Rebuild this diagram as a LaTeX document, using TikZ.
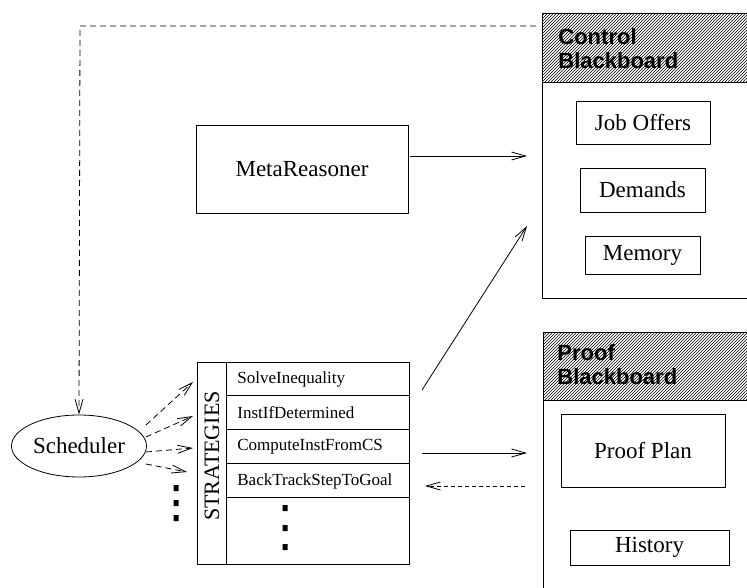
\documentclass[tikz,border=0pt]{standalone}
\usepackage{fontspec}
\setmainfont{Liberation Serif}
\newfontfamily\headfont{Liberation Sans}
\usetikzlibrary{arrows.meta,patterns,shapes.geometric}
\tikzset{
	box/.style={draw,inner sep=0pt},
	boardhead/.style={anchor=north west,align=left,inner sep=0pt,font=\headfont\bfseries\fontsize{22}{24}\selectfont},
	strat/.style={anchor=west,inner sep=0pt,font=\fontsize{17}{20}\selectfont},
	dashlong/.style={dash pattern=on 6pt off 4pt},
	dashshort/.style={dash pattern=on 4pt off 3pt}
}
\begin{document}
\begin{tikzpicture}[x=1pt,y=-1pt,>={Straight Barb[length=14pt,width=8pt]},line join=round,line width=.8pt,font=\fontsize{23}{27}\selectfont]
			\clip (0,0) rectangle (747,588);
			\path
			(542,13) coordinate (C1)
			(760,82) coordinate (C2)
			(760,298) coordinate (C3)
			(543,332) coordinate (P1)
			(760,400) coordinate (P2)
			(760,600) coordinate (P3)
			(536,26) coordinate (CB)
			(80,26) coordinate (CK)
			(527,156) coordinate (MI)
			(422,390) coordinate (SU)
			(527,226) coordinate (CI)
			(422,453) coordinate (SO)
			(527,453) coordinate (PI)
			(525,486) coordinate (PO)
			(425,486) coordinate (SI)
			(193,382) coordinate (E1)
			(193,416) coordinate (E2)
			(193,448) coordinate (E3)
			(187,472) coordinate (E4)
			;
			\fill[pattern=north east lines]
			(C1) rectangle (C2)
			(P1) rectangle (P2)
			;
			\draw
			(C1) rectangle (C3)
			(C1|-C2)--(C2)
			(P1) rectangle (P3)
			(P1|-P2)--(P2)
			;
			\node[boardhead] (ctrlhead) at (558,28) {Control\\Blackboard};
			\node[boardhead] (proofhead) at (557,344) {Proof\\Blackboard};
			\node[box,minimum width=212,minimum height=88] (meta) at (302,169) {MetaReasoner};
			\node[box,minimum width=134,minimum height=43] (jobs) at (643,122.5) {Job Offers};
			\node[box,minimum width=125,minimum height=44] (demands) at (642.5,190) {Demands};
			\node[box,minimum width=115,minimum height=38] (memory) at (642.5,255) {Memory};
			\node[box,minimum width=164,minimum height=73] (plan) at (643,450.5) {Proof Plan};
			\node[box,minimum width=159,minimum height=35] (history) at (649.5,547.5) {History};
			\node[draw,ellipse,inner sep=0pt,minimum width=135,minimum height=62] (sched) at (79,446) {Scheduler};
			% strategies table
			\draw
			(197,362) rectangle (409,564)
			(226,362)--(226,564)
			(226,395)--(409,395)
			(226,429)--(409,429)
			(226,463)--(409,463)
			(226,497)--(409,497)
			;
			\node[rotate=90,inner sep=0pt,font=\fontsize{22}{24}\selectfont] (strategies) at (212,456) {STRATEGIES};
			\node[strat] (solve) at (237,379) {SolveInequality};
			\node[strat] (instif) at (237,413) {InstIfDetermined};
			\node[strat] (compute) at (237,447) {ComputeInstFromCS};
			\node[strat] (back) at (237,481) {BackTrackStepToGoal};
			\fill
			(173.5,485) rectangle ++(5,6)
			(173.5,500) rectangle ++(5,6)
			(173.5,515) rectangle ++(5,6)
			(282.5,505) rectangle ++(5,6)
			(282.5,525) rectangle ++(5,6)
			(282.5,544) rectangle ++(5,6)
			;
			% connectors
			\draw[->,dashlong] (CB)--(CK)--(sched.north);
			\draw[->,dashlong] ([shift={(-1,-21)}]sched.east)--(E1);
			\draw[->,dashlong] ([shift={(-1,-9)}]sched.east)--(E2);
			\draw[->,dashlong] ([shift={(-1,6)}]sched.east)--(E3);
			\draw[->,dashlong] ([shift={(-1,18)}]sched.east)--(E4);
			\draw[->] ([shift={(2,-13)}]meta.east)--(MI);
			\draw[->] (SU)--(CI);
			\draw[->] (SO)--(PI);
			\draw[->,dashshort] (PO)--(SI);
\end{tikzpicture}
\end{document}
